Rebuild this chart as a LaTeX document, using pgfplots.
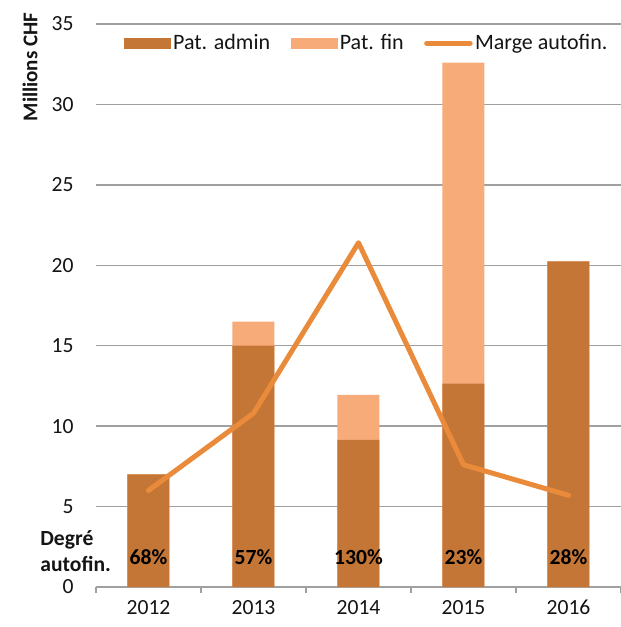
\documentclass[border=0pt]{standalone}
\usepackage{fontspec}
\setmainfont{Carlito}
\usepackage{pgfplots}
\pgfplotsset{compat=1.18}
\usepackage{pgfplotstable}
\definecolor{admin}{RGB}{196,118,54}
\definecolor{fin}{RGB}{247,171,121}
\definecolor{marge}{RGB}{234,139,60}
\definecolor{gridc}{RGB}{160,160,160}
\definecolor{txt}{RGB}{20,20,20}
\pgfplotstableread{
x admin fin marge
0 7.00 0.00 6.0
1 15.00 1.50 10.8
2 9.15 2.80 21.4
3 12.65 19.95 7.6
4 20.25 0.00 5.7
}\data
\begin{document}
\fontsize{10.8}{13}\selectfont
\begin{tikzpicture}
\begin{axis}[
  at={(0,0)}, anchor=south west,
  scale only axis, width=262.5pt, height=281.5pt,
  xmin=-0.5, xmax=4.5, ymin=0, ymax=35,
  clip=false,
  axis x line*=bottom, axis y line*=left,
  x axis line style={gridc, line width=0.75pt, -},
  y axis line style={draw=none},
  ytick={0,5,...,35},
  ymajorgrids, grid style={gridc, line width=0.75pt},
  xtick={0,...,4}, xticklabels={2012,2013,2014,2015,2016},
  minor xtick={-0.5,0.5,...,4.5},
  major x tick style={draw=none},
  minor x tick style={gridc, line width=0.75pt},
  ytick style={draw=none},
  major tick length=0pt, minor tick length=3pt, tick align=outside,
  /pgf/number format/assume math mode=true,
  tick label style={font=\fontsize{10.8}{13}\selectfont, text=txt},
  yticklabel style={inner sep=0pt, anchor=east, xshift=-11pt},
  xticklabel style={inner sep=0pt, anchor=north, yshift=-6.5pt},
  ylabel={\textbf{Millions CHF}},
  ylabel style={at={(rel axis cs:-0.1257,0.9236)}, anchor=center, font=\fontsize{10.5}{13}\selectfont, text=txt},
  legend style={at={(rel axis cs:0.516,0.966)}, anchor=center, draw=none, fill=none,
    legend columns=3, font=\fontsize{11}{13}\selectfont, text=txt,
    /tikz/every even column/.append style={column sep=9pt},
    nodes={inner sep=1.2pt}},
  legend cell align=left,
]
\addlegendimage{legend image code/.code={\fill[admin] (0pt,-2.5pt) rectangle (23pt,2.5pt);}}
\addlegendentry{Pat. admin}
\addlegendimage{legend image code/.code={\fill[fin] (0pt,-2.5pt) rectangle (23pt,2.5pt);}}
\addlegendentry{Pat. fin}
\addlegendimage{legend image code/.code={\draw[marge, line width=2.5pt, line cap=round] (1.25pt,0pt) -- (23pt,0pt);}}
\addlegendentry{Marge autofin.}

\addplot[ybar, bar width=21pt, bar shift=0pt, fill=fin, draw=none, forget plot]
  table[x=x, y expr=\thisrow{admin}+\thisrow{fin}] {\data};
\addplot[ybar, bar width=21pt, bar shift=0pt, fill=admin, draw=none, forget plot]
  table[x=x, y=admin] {\data};
\addplot[marge, line width=2.5pt, line cap=round, line join=round, mark=none, forget plot]
  table[x=x, y=marge] {\data};

\node[font=\bfseries\fontsize{10.8}{13}\selectfont, text=black] at (axis cs:0,1.85) {68\%};
\node[font=\bfseries\fontsize{10.8}{13}\selectfont, text=black] at (axis cs:1,1.85) {57\%};
\node[font=\bfseries\fontsize{10.8}{13}\selectfont, text=black] at (axis cs:2,1.85) {130\%};
\node[font=\bfseries\fontsize{10.8}{13}\selectfont, text=black] at (axis cs:3,1.85) {23\%};
\node[font=\bfseries\fontsize{10.8}{13}\selectfont, text=black] at (axis cs:4,1.85) {28\%};
\node[font=\bfseries\fontsize{10.8}{13}\selectfont, text=txt, anchor=west, align=left, inner sep=0pt]
  at (rel axis cs:-0.1067,0.0639) {Degré\\autofin.};
\end{axis}
\pgfresetboundingbox
\path (-48pt,-20pt) rectangle (262.5pt,293.5pt);
\end{tikzpicture}
\end{document}
